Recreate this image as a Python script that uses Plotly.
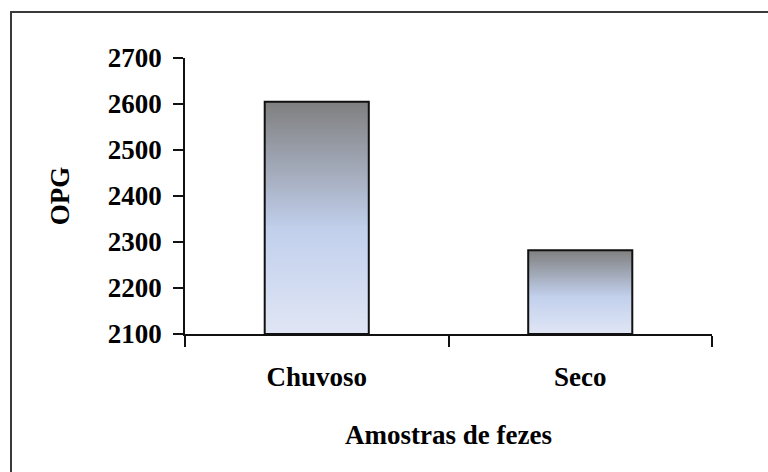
import plotly.graph_objects as go

# Data
categories = ["Chuvoso", "Seco"]
opg_values = [2605, 2282]
y_ticks = [2100, 2200, 2300, 2400, 2500, 2600, 2700]
axis_min = 2100
axis_max = 2700

# Gradient stops: position measured from the bar top (0) to its bottom (1)
grad_stops = [(0.0, (128, 128, 128)), (0.55, (194, 208, 237)), (1.0, (224, 230, 244))]
n_layers = 120

FONT = "Liberation Serif, Times New Roman, serif"


def grad_color(t):
    for (p0, c0), (p1, c1) in zip(grad_stops[:-1], grad_stops[1:]):
        if p0 <= t <= p1:
            f = (t - p0) / (p1 - p0) if p1 > p0 else 0
            r, g, b = (round(a + (b_ - a) * f) for a, b_ in zip(c0, c1))
            return f"rgb({r},{g},{b})"
    r, g, b = grad_stops[-1][1]
    return f"rgb({r},{g},{b})"


fig = go.Figure()

bar_width = 0.395

# Gradient fill: nested bars from the axis base, tallest first, each shorter
# bar painted over the previous one with the colour of its own top edge
for cat, val in zip(categories, opg_values):
    h = val - axis_min
    heights = [h * (n_layers - i) / n_layers for i in range(n_layers)]
    colors = [grad_color(1 - hh / h) for hh in heights]
    fig.add_trace(go.Bar(
        x=[cat] * n_layers,
        y=heights,
        base=[axis_min] * n_layers,
        width=bar_width,
        marker=dict(color=colors, line=dict(width=0)),
        hoverinfo="skip",
        showlegend=False,
    ))

# Bar outlines
fig.add_trace(go.Bar(
    x=categories,
    y=[v - axis_min for v in opg_values],
    base=[axis_min] * len(categories),
    width=bar_width,
    marker=dict(color="rgba(0,0,0,0)", line=dict(color="#111111", width=2)),
    showlegend=False,
))

L, R, T, B = 185, 56, 58, 138
W, H = 768, 472
pw, ph = W - L - R, H - T - B

fig.update_layout(
    width=W,
    height=H,
    margin=dict(l=L, r=R, t=T, b=B),
    barmode="overlay",
    plot_bgcolor="white",
    paper_bgcolor="white",
    font=dict(family=FONT, color="black"),
    xaxis=dict(
        type="category",
        range=[-0.5, 1.5],
        showline=True,
        linecolor="#111111",
        linewidth=1.5,
        showgrid=False,
        zeroline=False,
        ticks="outside",
        tickson="boundaries",
        ticklen=11,
        tickwidth=1.5,
        tickcolor="#111111",
        tickfont=dict(family=FONT, size=27, weight="bold"),
        ticklabelstandoff=18,
        title=dict(text="Amostras de fezes",
                   font=dict(family=FONT, size=27, weight="bold"),
                   standoff=34),
    ),
    yaxis=dict(
        range=[axis_min, axis_max],
        tickvals=y_ticks,
        showline=True,
        linecolor="#111111",
        linewidth=1.5,
        showgrid=False,
        zeroline=False,
        ticks="outside",
        ticklen=10,
        tickwidth=1.5,
        tickcolor="#111111",
        tickfont=dict(family=FONT, size=27, weight="bold"),
        ticklabelstandoff=6,
        title=dict(text="OPG",
                   font=dict(family=FONT, size=27, weight="bold"),
                   standoff=30),
    ),
    shapes=[dict(
        type="rect",
        xref="paper", yref="paper",
        x0=(11 - L) / pw, x1=(W + 20 - L) / pw,
        y0=-(B + 20) / ph, y1=1 + (T - 12) / ph,
        line=dict(color="#3a3a3a", width=2),
        fillcolor="rgba(0,0,0,0)",
        layer="below",
    )],
)

fig.write_html("out.html", config=dict(displayModeBar=False))
